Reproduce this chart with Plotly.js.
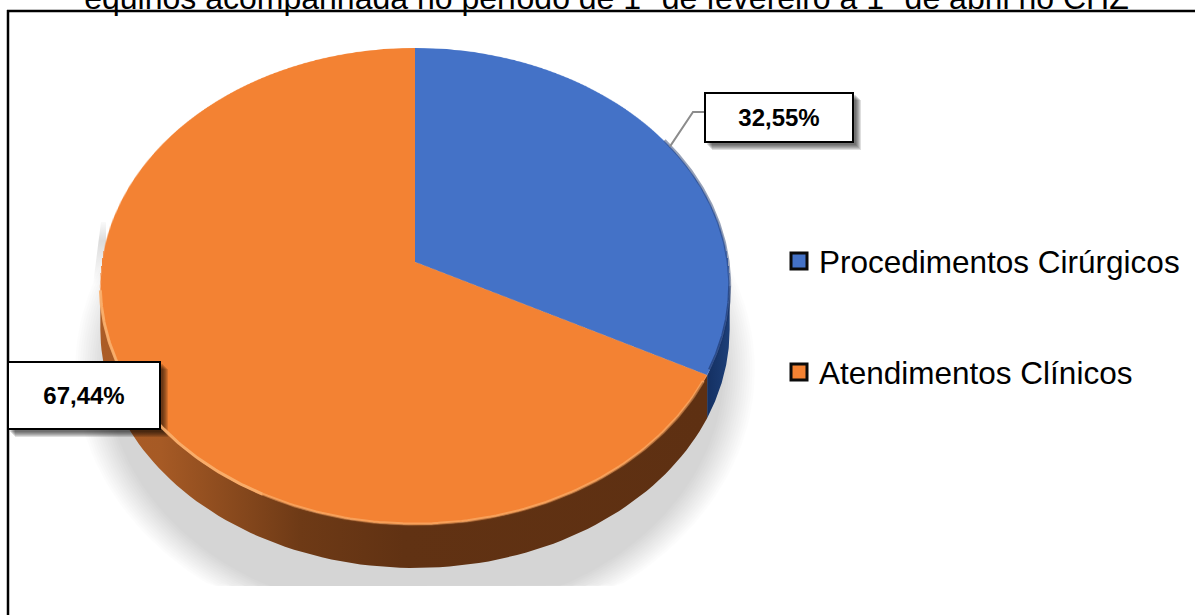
<!DOCTYPE html>
<html><head><meta charset="utf-8">
<script src="https://cdn.plot.ly/plotly-3.0.1.min.js"></script>
<style>
html,body{margin:0;padding:0;background:#fff;width:1195px;height:615px;overflow:hidden}
.layer{position:absolute;left:0;top:0;width:1195px;height:615px}
#pie{width:640px;height:640px;left:95px;top:-58px;transform-origin:50% 50%;
transform:matrix3d(0.978125,0,0,0, 0,0.7375,0,-0.000321, 0,0,1,0, 0,0,0,1)}
</style></head><body>
<div id="base" class="layer"></div>
<div id="pie" class="layer"></div>
<div id="top" class="layer"></div>
<script>
const categories = ['Procedimentos Cirúrgicos', 'Atendimentos Clínicos'];
const shares = [32.55, 67.44];
const shareLabels = ['32,55%', '67,44%'];
const sliceColors = ['#4472C7', '#F38233'];
const chartTitle = 'equinos acompanhada no período de 1º de fevereiro a 1º de abril no CHZ';

const FONT = '"Liberation Sans", Arial, sans-serif';
const W = 1195, H = 615;
const cx = 415, cy = 262, A = 313, B = 236, k = 0.1027, depth = 43;
const total = shares[0] + shares[1];
const split = shares[0] / total * 2 * Math.PI;
const rimR = Math.acos(-k), rimL = 2 * Math.PI - rimR;

function rim(t, dy) {
  const w = 1 + k * Math.cos(t);
  return [cx + A * Math.sin(t) / w, cy - B * Math.cos(t) / w + (dy || 0)];
}
function arc(a, b, dy) {
  const n = 90, out = [];
  for (let i = 0; i <= n; i++) out.push(rim(a + (b - a) * i / n, dy));
  return out;
}
function wall(a, b, grad) {
  const pts = arc(a, b, 0).concat(arc(b, a, depth));
  pts.push(pts[0]);
  return {type: 'scatter', mode: 'lines', x: pts.map(p => p[0]), y: pts.map(p => p[1]),
    line: {width: 0}, fill: 'toself', fillgradient: {type: 'horizontal', colorscale: grad},
    hoverinfo: 'skip', showlegend: false};
}
function line(pts, color, width) {
  return {type: 'scatter', mode: 'lines', x: pts.map(p => p[0]), y: pts.map(p => p[1]),
    line: {color, width}, hoverinfo: 'skip', showlegend: false};
}
function shadow() {
  const out = [];
  for (let s = 0; s < 14; s++) {
    const f = 1 - s * 0.007, xs = [], ys = [];
    for (let i = 0; i <= 180; i++) {
      const t = i / 180 * 2 * Math.PI;
      xs.push(415 + 340 * f * Math.sin(t));
      ys.push(Math.min(586, 370 + 270 * f * Math.cos(t)));
    }
    out.push({type: 'scatter', mode: 'lines', x: xs, y: ys, line: {width: 0}, fill: 'toself',
      fillcolor: 'rgba(0,0,0,0.0132)', hoverinfo: 'skip', showlegend: false});
  }
  out.push({type: 'scatter', mode: 'lines', x: [101, 93, 106, 106, 101], y: [222, 285, 285, 222, 222],
    line: {width: 0}, fill: 'toself',
    fillgradient: {type: 'vertical', colorscale: [[0, 'rgba(0,0,0,0)'], [0.7, 'rgba(0,0,0,0.14)'], [1, 'rgba(0,0,0,0.02)']]},
    hoverinfo: 'skip', showlegend: false});
  return out;
}
function legendItem(i) {
  return {type: 'scatter', mode: 'markers', x: [null], y: [null], name: categories[i],
    legendgroup: 'g' + i, marker: {symbol: 'square', size: 16, color: sliceColors[i], line: {color: '#0b0b0b', width: 3}},
    hoverinfo: 'skip'};
}
const axes = {
  xaxis: {visible: false, range: [0, W], fixedrange: true},
  yaxis: {visible: false, range: [H, 0], fixedrange: true}
};
const cfg = {staticPlot: true, displayModeBar: false};

Plotly.newPlot('base',
  shadow().concat([
    wall(rimR, split, [[0, '#143062'], [1, '#1d3f78']]),
    wall(split, rimL, [[0, '#ab5c26'], [0.1, '#a65a25'], [0.33, '#6e3a16'], [0.5, '#613213'], [1, '#5e3012']]),
    legendItem(0), legendItem(1)
  ]),
  Object.assign({
    width: W, height: H, margin: {l: 0, r: 0, t: 0, b: 0},
    paper_bgcolor: '#fff', plot_bgcolor: 'rgba(0,0,0,0)',
    title: {text: chartTitle, x: 0.5075, xanchor: 'center', yref: 'container', y: 0.9862, yanchor: 'bottom',
      font: {family: FONT, size: 32, color: '#000'}},
    showlegend: true,
    legend: {x: 779 / W, xanchor: 'left', y: 1 - 234 / H, yanchor: 'top', traceorder: 'grouped', tracegroupgap: 67,
      bgcolor: 'rgba(0,0,0,0)', font: {family: FONT, size: 31.5, color: '#000'}},
    shapes: [
      {type: 'line', xref: 'x', yref: 'y', x0: 8, x1: 8, y0: 10, y1: 615, line: {color: '#000', width: 2.5}},
      {type: 'line', xref: 'x', yref: 'y', x0: 7, x1: 1195, y0: 11, y1: 11, line: {color: '#000', width: 2.5}}
    ]
  }, axes), cfg);

Plotly.newPlot('pie', [{
  type: 'pie', values: shares, labels: categories, sort: false, direction: 'clockwise', rotation: 0,
  marker: {colors: sliceColors, line: {width: 0}}, textinfo: 'none', hoverinfo: 'skip'
}], {width: 640, height: 640, margin: {l: 0, r: 0, t: 0, b: 0}, showlegend: false,
  paper_bgcolor: 'rgba(0,0,0,0)'}, cfg);

const boxShadow = [];
[[705, 93, 853, 142], [8, 362, 160, 429]].forEach(b => {
  for (let s = 0; s < 6; s++) {
    boxShadow.push({type: 'rect', xref: 'x', yref: 'y', layer: 'below',
      x0: b[0] + 2 + s, x1: b[2] + 3 + s, y0: b[1] + 2 + s, y1: b[3] + 3 + s,
      line: {width: 0}, fillcolor: 'rgba(0,0,0,0.13)'});
  }
});
function label(i, x0, y0, x1, y1) {
  return {xref: 'x', yref: 'y', x: (x0 + x1) / 2, y: (y0 + y1) / 2, text: '<b>' + shareLabels[i] + '</b>', showarrow: false,
    width: x1 - x0 - 2, height: y1 - y0 - 2, bgcolor: '#fff', bordercolor: '#000', borderwidth: 2, borderpad: 0,
    align: 'center', valign: 'middle', font: {family: FONT, size: 24, color: '#000'}};
}
Plotly.newPlot('top', [
  line(arc(split + 0.03, 3.6, -1), 'rgba(250,176,110,0.65)', 3),
  line(arc(3.6, rimL - 0.02, -1), 'rgba(250,176,110,0.9)', 3),
  line(arc(split + 0.03, 3.6, 0.5), 'rgba(120,62,22,0.45)', 2),
  line(arc(1.0, rimR, -1), 'rgba(24,48,100,0.45)', 3),
  line(arc(rimR, split - 0.02, -1), 'rgba(24,48,100,0.6)', 3),
  line([rim(1.03), [693, 112], [705, 112]], '#8c8c8c', 2)
], Object.assign({
  width: W, height: H, margin: {l: 0, r: 0, t: 0, b: 0}, showlegend: false,
  paper_bgcolor: 'rgba(0,0,0,0)', plot_bgcolor: 'rgba(0,0,0,0)',
  shapes: boxShadow,
  annotations: [label(0, 705, 93, 853, 142), label(1, 8, 362, 160, 429)]
}, axes), cfg);
</script></body></html>
